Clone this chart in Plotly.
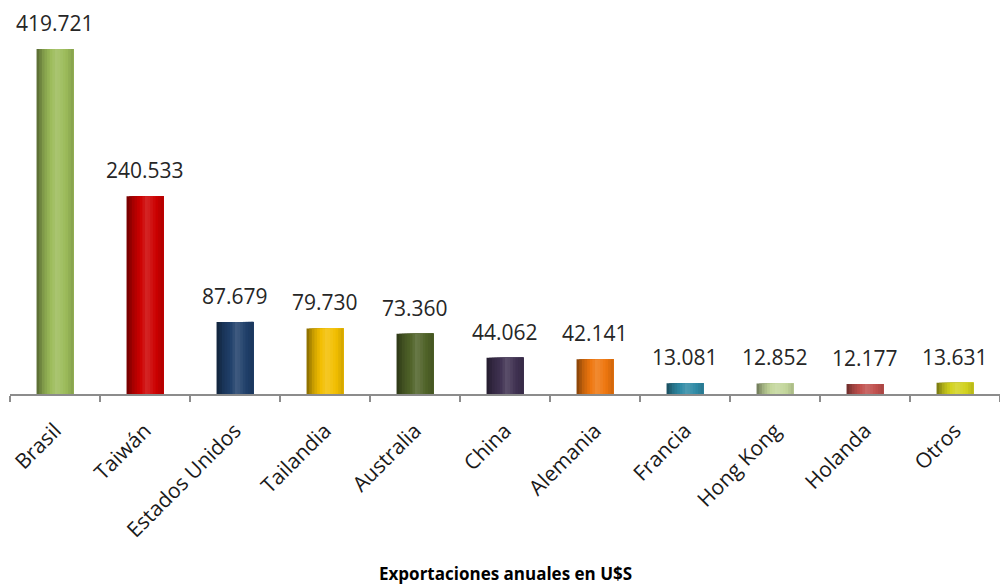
import numpy as np
import plotly.graph_objects as go

# Export destinations and annual export values (U$S)
countries = ["Brasil", "Taiwán", "Estados Unidos", "Tailandia", "Australia", "China",
             "Alemania", "Francia", "Hong Kong", "Holanda", "Otros"]
exports = [419721, 240533, 87679, 79730, 73360, 44062, 42141, 13081, 12852, 12177, 13631]

# Base fill colour for each bar
base_colors = ["#9BBB59", "#CC0000", "#1F3F6A", "#F2BE00", "#4F6228", "#3F3151",
               "#EE760E", "#2F8AA5", "#C3D69B", "#C0504D", "#D2D21E"]


def hex_to_rgb(h):
    h = h.lstrip("#")
    return np.array([int(h[i:i + 2], 16) for i in (0, 2, 4)], dtype=float)


def shade(h, f):
    """f < 1 darkens, f > 1 blends toward white."""
    c = hex_to_rgb(h)
    if f <= 1:
        c = c * f
    else:
        c = c + (255 - c) * (f - 1)
    c = np.clip(c, 0, 255).round().astype(int)
    return "rgb(%d,%d,%d)" % tuple(c)


def fmt_es(v):
    return f"{v:,}".replace(",", ".")


# Horizontal brightness profile giving each bar a rounded, cylinder-like look
prof_t = [0.0, 0.2, 0.55, 0.8, 1.0]
prof_f = [0.55, 0.85, 1.15, 1.0, 0.86]

bar_w = 0.41
n_strips = 14

fig = go.Figure()
for k in range(n_strips):
    t = (k + 0.5) / n_strips
    f = float(np.interp(t, prof_t, prof_f))
    left = -bar_w / 2 + k * bar_w / n_strips
    width = bar_w / 2 - left
    fig.add_trace(go.Bar(
        x=countries,
        y=exports,
        offset=left,
        width=width,
        marker=dict(color=[shade(c, f) for c in base_colors], line=dict(width=0)),
        showlegend=False,
        hoverinfo="x+y" if k == 0 else "skip",
    ))

# Value labels above each bar
value_labels = [dict(
    x=c, y=v, xref="x", yref="y", text=fmt_es(v),
    yanchor="bottom", yshift=10, showarrow=False,
    font=dict(family="Open Sans", size=21, color="#262626"),
) for c, v in zip(countries, exports)]

fig.update_layout(
    width=1000,
    height=587,
    barmode="overlay",
    paper_bgcolor="white",
    plot_bgcolor="white",
    margin=dict(l=10, r=0, t=10, b=193),
    font=dict(family="Open Sans", color="#1a1a1a"),
    xaxis=dict(
        showline=True,
        linecolor="#8c8c8c",
        linewidth=2,
        ticks="outside",
        tickson="boundaries",
        ticklen=6,
        tickwidth=2,
        tickcolor="#8c8c8c",
        tickangle=-45,
        ticklabelstandoff=14,
        tickfont=dict(family="Open Sans", size=21, color="#1a1a1a"),
        showgrid=False,
    ),
    yaxis=dict(visible=False, range=[0, 467000], showgrid=False),
    annotations=value_labels + [dict(
        text="<b>Exportaciones anuales en U$S</b>",
        x=0.5, xref="paper", y=-(573 - 394) / 384, yref="paper", yanchor="middle",
        showarrow=False,
        font=dict(family="Open Sans", size=17, color="#000000"),
    )],
)

fig.write_html("out.html")
